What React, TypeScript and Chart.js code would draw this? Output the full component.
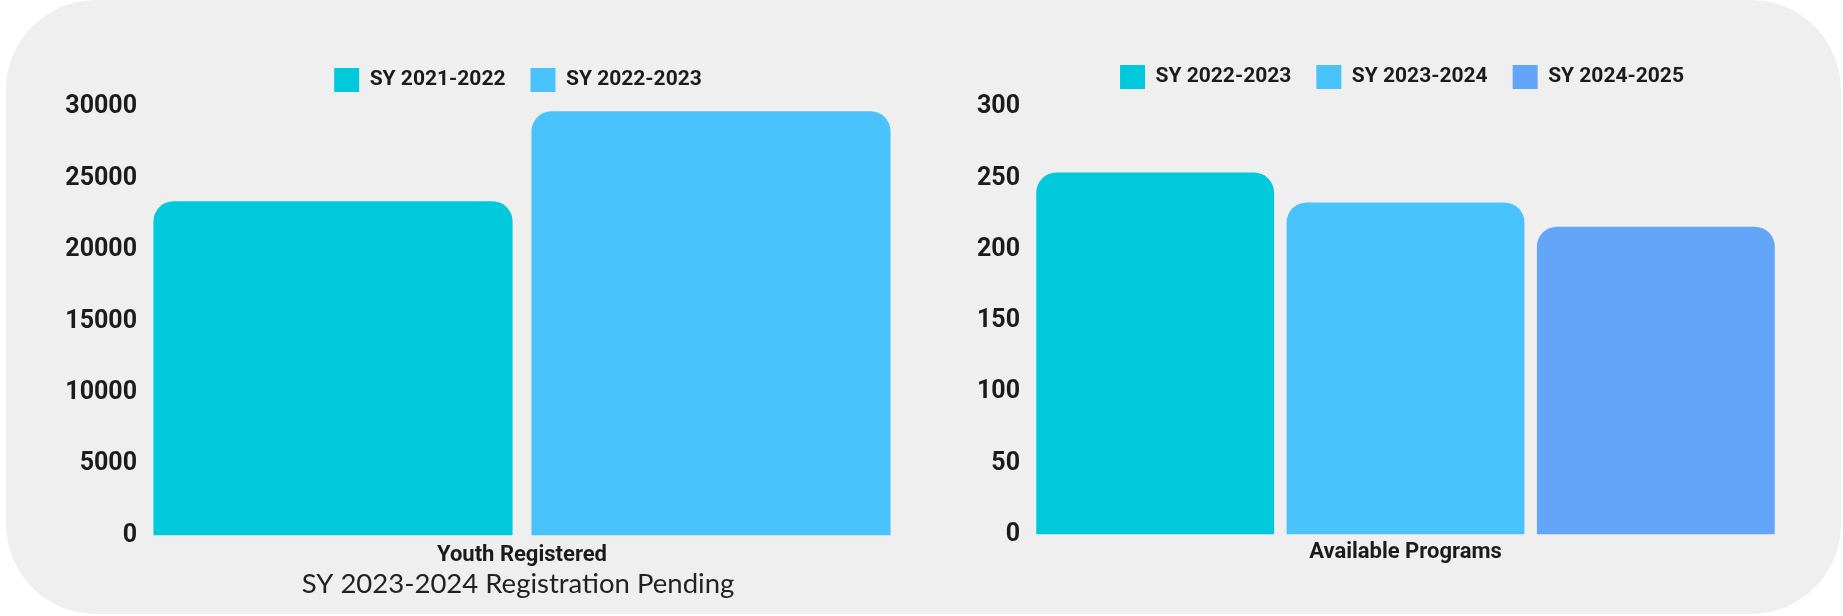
import React, { useEffect, useRef } from "react";
import { Chart, registerables } from "chart.js";

Chart.register(...registerables);

// ---------- data ----------
const leftCategories = ["Youth Registered"];
const leftSeriesLabels = ["SY 2021-2022", "SY 2022-2023"];
const leftValues = [23400, 29700];
const leftColors = ["#00C9DB", "#4AC3FD"];
const leftAxis = { min: 0, max: 30000, step: 5000 };
const leftSubtitle = "SY 2023-2024 Registration Pending";

const rightCategories = ["Available Programs"];
const rightSeriesLabels = ["SY 2022-2023", "SY 2023-2024", "SY 2024-2025"];
const rightValues = [254, 233, 216];
const rightColors = ["#00C9DB", "#4AC3FD", "#63A5F9"];
const rightAxis = { min: 0, max: 300, step: 50 };

const FONT = 'Roboto, "Noto Sans", "DejaVu Sans", sans-serif';
const TEXT = "#1b1b1b";

const legendGap = (gap: number) => ({
  id: "legendGap",
  beforeInit(chart: any) {
    const legend = chart.legend;
    if (!legend) return;
    const orig = legend.fit;
    legend.fit = function () {
      orig.call(this);
      this.height += gap;
    };
  },
});

type Cfg = {
  categories: string[];
  seriesLabels: string[];
  values: number[];
  colors: string[];
  axis: { min: number; max: number; step: number };
  subtitle?: string;
  yWidth: number;
  rightPad: number;
  tickPad: number;
  padTop: number;
  padBottom: number;
  xTickPad: number;
  gap: number;
};

function BarPanel({ cfg, style }: { cfg: Cfg; style: React.CSSProperties }) {
  const ref = useRef<HTMLCanvasElement | null>(null);
  useEffect(() => {
    if (!ref.current) return;
    const chart = new Chart(ref.current, {
      type: "bar",
      data: {
        labels: cfg.categories,
        datasets: cfg.seriesLabels.map((lab, i) => ({
          label: lab,
          data: [cfg.values[i]],
          backgroundColor: cfg.colors[i],
          borderWidth: 0,
          borderRadius: 20,
          borderSkipped: "start",
          categoryPercentage: 1,
          barPercentage: 0.95,
        })),
      },
      options: {
        animation: false,
        responsive: true,
        maintainAspectRatio: false,
        layout: { padding: { top: cfg.padTop, bottom: cfg.padBottom, left: 0, right: 0 } },
        plugins: {
          legend: {
            position: "top",
            labels: {
              boxWidth: 25,
              boxHeight: 24,
              padding: 25,
              color: TEXT,
              font: { family: FONT, size: 21, weight: "bold" },
            },
          },
          tooltip: { enabled: false },
          subtitle: cfg.subtitle
            ? {
                display: true,
                text: cfg.subtitle,
                position: "bottom",
                color: "#222",
                font: { family: 'Lato, "Open Sans", sans-serif', size: 27.5, weight: "normal", lineHeight: 1 },
                padding: { top: -6, bottom: 18.6 },
              }
            : { display: false },
        },
        scales: {
          x: {
            grid: { display: false, drawTicks: false },
            border: { display: false },
            ticks: {
              color: TEXT,
              padding: cfg.xTickPad,
              font: { family: FONT, size: 22, weight: "bold", lineHeight: 1.2 },
            },
          },
          y: {
            min: cfg.axis.min,
            max: cfg.axis.max,
            grid: { display: false, drawTicks: false },
            border: { display: false },
            ticks: {
              stepSize: cfg.axis.step,
              color: TEXT,
              padding: cfg.tickPad,
              font: { family: FONT, size: 25, weight: "bold" },
              callback: (v: any) => String(v),
            },
            afterFit: (s: any) => {
              s.width = cfg.yWidth;
            },
          },
          pad: {
            type: "linear",
            position: "right",
            display: true,
            grid: { display: false, drawTicks: false },
            border: { display: false },
            ticks: { display: false },
            afterFit: (s: any) => {
              s.width = cfg.rightPad;
            },
          },
        },
      } as any,
      plugins: [legendGap(cfg.gap)],
    });
    return () => chart.destroy();
  }, []);
  return (
    <div style={style}>
      <canvas ref={ref} />
    </div>
  );
}

const leftCfg: Cfg = {
  categories: leftCategories,
  seriesLabels: leftSeriesLabels,
  values: leftValues,
  colors: leftColors,
  axis: leftAxis,
  subtitle: leftSubtitle,
  yWidth: 114,
  rightPad: 106,
  tickPad: 7,
  padTop: 43,
  padBottom: 0,
  xTickPad: 7,
  gap: 5,
};

const rightCfg: Cfg = {
  categories: rightCategories,
  seriesLabels: rightSeriesLabels,
  values: rightValues,
  colors: rightColors,
  axis: rightAxis,
  yWidth: 69,
  rightPad: 62,
  tickPad: 10,
  padTop: 40,
  padBottom: 45,
  xTickPad: 5,
  gap: 8,
};

export default function App() {
  return (
    <div
      style={{
        position: "relative",
        width: 1843,
        height: 616,
        overflow: "hidden",
        background: "#ffffff",
      }}
    >
      <style>{"html,body{margin:0;padding:0;overflow:hidden;background:#fff}"}</style>
      <div
        style={{
          position: "absolute",
          left: 6,
          top: 0,
          width: 1835,
          height: 614,
          borderRadius: 90,
          background: "#efefef",
        }}
      />
      <BarPanel
        cfg={leftCfg}
        style={{ position: "absolute", left: 30, top: 0, width: 976, height: 616 }}
      />
      <BarPanel
        cfg={rightCfg}
        style={{ position: "absolute", left: 961, top: 0, width: 882, height: 616 }}
      />
    </div>
  );
}
